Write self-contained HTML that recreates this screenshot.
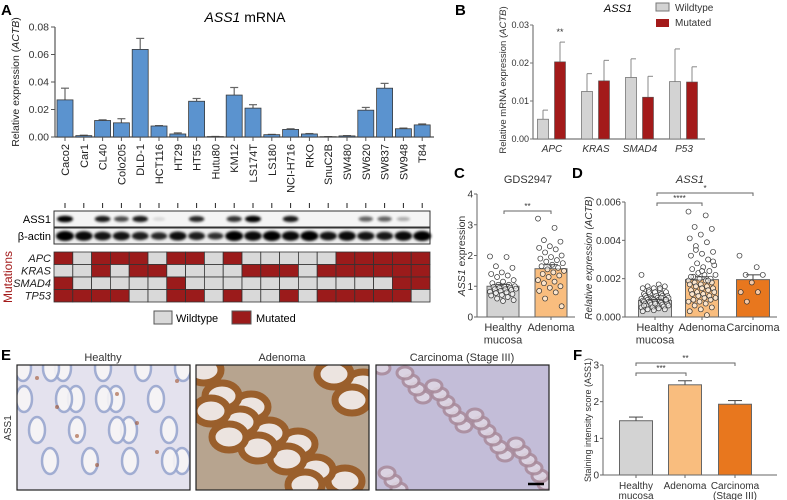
<!DOCTYPE html>
<html><head><meta charset="utf-8"><style>
body{margin:0;background:#fff}
svg{display:block;font-family:"Liberation Sans",sans-serif}
</style></head><body>
<svg id="fig" width="787" height="500" viewBox="0 0 787 500" xmlns="http://www.w3.org/2000/svg">
<defs>
<filter id="blur1" x="-50%" y="-50%" width="200%" height="200%"><feGaussianBlur stdDeviation="1.2"/></filter>
<clipPath id="clipH"><rect x="17" y="365" width="173" height="125"/></clipPath>
<clipPath id="clipA"><rect x="196" y="365" width="173" height="125"/></clipPath>
<clipPath id="clipC"><rect x="376" y="365" width="173" height="125"/></clipPath>
</defs>
<text x="1" y="15" font-size="15" font-weight="bold">A</text>
<text x="455" y="15" font-size="15" font-weight="bold">B</text>
<text x="454" y="178" font-size="15" font-weight="bold">C</text>
<text x="572" y="178" font-size="15" font-weight="bold">D</text>
<text x="1" y="360" font-size="15" font-weight="bold">E</text>
<text x="573" y="360" font-size="15" font-weight="bold">F</text>
<text x="245" y="22" font-size="14" text-anchor="middle"><tspan font-style="italic">ASS1</tspan> mRNA</text>
<text transform="translate(19,82) rotate(-90)" font-size="10.5" text-anchor="middle" fill="#222">Relative expression (<tspan font-style="italic">ACTB</tspan>)</text>
<text x="51" y="223" font-size="11" text-anchor="end">ASS1</text>
<text x="51" y="240" font-size="11" text-anchor="end">β-actin</text>
<text transform="translate(12,277) rotate(-90)" font-size="12" text-anchor="middle" fill="#a31a1a">Mutations</text>
<rect x="154" y="311" width="18" height="13" fill="#d9d9d9" stroke="#555"/>
<text x="176" y="322" font-size="11">Wildtype</text>
<rect x="232" y="311" width="19" height="13" fill="#9b1b1b" stroke="#555"/>
<text x="256" y="322" font-size="11">Mutated</text>
<text x="618" y="12" font-size="11" font-style="italic" text-anchor="middle">ASS1</text>
<rect x="656" y="3" width="13" height="8" fill="#d3d3d3" stroke="#777"/>
<text x="675" y="11" font-size="10" fill="#333">Wildtype</text>
<rect x="656" y="19" width="13" height="8" fill="#a31a1a"/>
<text x="675" y="26" font-size="10" fill="#333">Mutated</text>
<text transform="translate(506,80) rotate(-90)" font-size="9.5" text-anchor="middle" fill="#333">Relative mRNA expression (<tspan font-style="italic">ACTB</tspan>)</text>
<text x="528" y="183" font-size="11" text-anchor="middle" fill="#333">GDS2947</text>
<text transform="translate(465,256) rotate(-90)" font-size="10.5" text-anchor="middle" fill="#333"><tspan font-style="italic">ASS1</tspan> expression</text>
<text x="690" y="183" font-size="11" font-style="italic" text-anchor="middle" fill="#333">ASS1</text>
<text transform="translate(592,258) rotate(-90)" font-size="10" font-style="italic" text-anchor="middle" fill="#333">Relative expression (ACTB)</text>
<text x="103" y="361" font-size="11" text-anchor="middle" fill="#333">Healthy</text>
<text x="282" y="361" font-size="11" text-anchor="middle" fill="#333">Adenoma</text>
<text x="462" y="361" font-size="11" text-anchor="middle" fill="#333">Carcinoma (Stage III)</text>
<text transform="translate(11,428) rotate(-90)" font-size="10" text-anchor="middle" fill="#333">ASS1</text>
<text transform="translate(591,420) rotate(-90)" font-size="9" text-anchor="middle" fill="#333">Staining intensity score (ASS1)</text>
<g id="root"></g>
</svg>
<script>
// ===== Panel A data =====
const aCats = ["Caco2","Car1","CL40","Colo205","DLD-1","HCT116","HT29","HT55","Hutu80","KM12","LS174T","LS180","NCI-H716","RKO","SnuC2B","SW480","SW620","SW837","SW948","T84"];
const aVals = [0.027,0.001,0.012,0.0103,0.0637,0.008,0.0022,0.026,0.0003,0.0305,0.021,0.0017,0.0055,0.0022,0.0002,0.0008,0.0195,0.0355,0.006,0.0088];
const aErr  = [0.0355,0.0013,0.0125,0.0133,0.0717,0.0083,0.003,0.028,0.0004,0.036,0.0235,0.0019,0.006,0.0025,0.0003,0.001,0.0215,0.039,0.0065,0.0095];
const aTicks = [0,0.02,0.04,0.06,0.08];
const aTickLabels = ["0.00","0.02","0.04","0.06","0.08"];
const blotAss1 = [1,0,0.9,0.7,0.9,0.12,0,0.85,0,0.8,1,0,0.9,0,0,0,0.6,0.6,0.3,0];
const blotActin = [1,0.9,0.8,0.8,0.7,0.6,0.85,0.7,0.5,1,0.9,1,0.9,1,0.8,0.9,0.8,0.75,0.9,1];
const mutGenes = ["APC","KRAS","SMAD4","TP53"];
const mutAPC   = [1,0,1,1,1,0,1,1,0,1,0,0,0,0,0,1,1,1,1,1];
const mutKRAS  = [0,0,1,0,1,1,0,0,0,0,1,1,1,0,1,1,1,1,1,1];
const mutSMAD4 = [1,0,0,0,0,0,1,0,0,0,0,0,0,0,0,0,0,0,1,1];
const mutTP53  = [1,1,1,1,0,0,1,1,0,1,0,0,1,0,1,1,1,1,1,0];
// ===== Panel B data =====
const bCats = ["APC","KRAS","SMAD4","P53"];
const bWt = [0.0052,0.0125,0.0162,0.0151];
const bWtErr = [0.0076,0.0172,0.0211,0.0237];
const bMut = [0.0203,0.0153,0.011,0.015];
const bMutErr = [0.0255,0.0207,0.0165,0.019];
const bTicks = [0,0.01,0.02,0.03];
const bTickLabels = ["0.00","0.01","0.02","0.03"];
// ===== Panel C data =====
const cCats = [["Healthy","mucosa"],["Adenoma"]];
const cMeans = [1.0,1.57];
const cErr = [1.06,1.7];
const cHealthy = [1.97,1.95,1.65,1.6,1.45,1.4,1.35,1.3,1.2,1.15,1.1,1.05,1.05,1.0,1.0,0.98,0.95,0.95,0.92,0.9,0.9,0.88,0.85,0.82,0.8,0.78,0.75,0.72,0.7,0.65,0.6,0.55,0.52];
const cAdenoma = [3.2,2.9,2.5,2.45,2.3,2.25,2.2,2.1,2.0,1.95,1.9,1.85,1.8,1.75,1.7,1.65,1.6,1.55,1.5,1.45,1.4,1.35,1.3,1.2,1.15,1.1,1.0,0.95,0.85,0.8,0.6,0.35];
const cTicks = [0,1,2,3,4];
// ===== Panel D data =====
const dCats = [["Healthy","mucosa"],["Adenoma"],["Carcinoma"]];
const dMeans = [0.00087,0.00195,0.00195];
const dErr = [0.00092,0.0021,0.0022];
const dHealthy = [0.0022,0.0017,0.0016,0.0016,0.0015,0.0015,0.0014,0.0014,0.0013,0.0013,0.0012,0.0012,0.0012,0.0011,0.0011,0.0011,0.0011,0.001,0.001,0.001,0.001,0.001,0.00095,0.00095,0.0009,0.0009,0.0009,0.0009,0.00085,0.00085,0.0008,0.0008,0.0008,0.0008,0.00075,0.00075,0.0007,0.0007,0.0007,0.00065,0.00065,0.0006,0.0006,0.0006,0.00055,0.0005,0.0005,0.00045,0.0004,0.0004,0.00035,0.0003,0.0015,0.0013,0.0009,0.0007,0.0006,0.001];
const dAdenoma = [0.0055,0.0053,0.0047,0.0046,0.0043,0.0041,0.0039,0.0037,0.0034,0.0033,0.0032,0.003,0.0028,0.0027,0.0026,0.0025,0.0024,0.0023,0.0022,0.0022,0.0021,0.002,0.002,0.0019,0.0019,0.0018,0.0018,0.0017,0.0017,0.0016,0.0016,0.0015,0.0015,0.0014,0.0014,0.0013,0.0013,0.0012,0.0012,0.0011,0.0011,0.001,0.001,0.0009,0.0009,0.0008,0.0008,0.0007,0.0006,0.0005,0.0004,0.0003,0.0001,0.0035,0.0029,0.0024,0.0021,0.0019];
const dCarcinoma = [0.0032,0.0026,0.0022,0.0022,0.0018,0.0013,0.0013,0.0008];
const dTicks = [0,0.002,0.004,0.006];
const dTickLabels = ["0.000","0.002","0.004","0.006"];
// ===== Panel F data =====
const fCats = [["Healthy","mucosa"],["Adenoma"],["Carcinoma","(Stage III)"]];
const fMeans = [1.48,2.46,1.93];
const fErr = [1.58,2.57,2.03];
const fTicks = [0,1,2,3];

const NS = "http://www.w3.org/2000/svg";
const root = document.getElementById('root');
function mk(parent, tag, attrs){ const e=document.createElementNS(NS,tag); for(const k in attrs) e.setAttribute(k,attrs[k]); parent.appendChild(e); return e; }
function grp(name){ const g=mk(root,'g',{});
  
  
  return g; }

// ----- Panel A -----
const xA = i => 65 + i*18.8;
const yA = v => 137 - v/0.08*110;
const gA = grp('panel-a-bar-chart');
let e;
e = mk(gA,'line',{x1:55,y1:yA(0.08),x2:55,y2:137,stroke:'#555','stroke-width':1.2});


e = mk(gA,'line',{x1:55,y1:137,x2:434,y2:137,stroke:'#555','stroke-width':1.2});


aTicks.forEach((t,i)=>{
  e = mk(gA,'line',{x1:51,y1:yA(t),x2:55,y2:yA(t),stroke:'#555'});
  
  
  e = mk(gA,'text',{x:49,y:yA(t)+3.5,'font-size':10.5,'text-anchor':'end',fill:'#333'});
  e.textContent = aTickLabels[i];
  
  
});
aCats.forEach((c,i)=>{
  const x=xA(i);
  e = mk(gA,'line',{x1:x,y1:yA(aVals[i]),x2:x,y2:yA(aErr[i]),stroke:'#666','stroke-width':1.2});
  
  
  e = mk(gA,'line',{x1:x-4,y1:yA(aErr[i]),x2:x+4,y2:yA(aErr[i]),stroke:'#666','stroke-width':1.2});
  
  
  e = mk(gA,'rect',{x:x-8,y:yA(aVals[i]),width:16,height:137-yA(aVals[i]),fill:'#5b93cf',stroke:'#3a3a3a','stroke-width':0.8});
  
  
  e = mk(gA,'line',{x1:x,y1:137,x2:x,y2:141,stroke:'#555'});
  
  
  e = mk(gA,'text',{transform:`translate(${x+4},144) rotate(-90)`,'font-size':11,'text-anchor':'end',fill:'#222'});
  e.textContent = c;
  
  
});
const gBlot = grp('western-blot');
e = mk(gBlot,'rect',{x:54,y:211,width:376,height:16,fill:'#f4f4f4',stroke:'#333'});


e = mk(gBlot,'rect',{x:54,y:228,width:376,height:16,fill:'#eeeeee',stroke:'#333'});


aCats.forEach((c,i)=>{
  const x=xA(i);
  e = mk(gBlot,'line',{x1:x,y1:203,x2:x,y2:208,stroke:'#222','stroke-width':1});
  
  
  if(blotAss1[i]>0){
    e = mk(gBlot,'ellipse',{cx:x,cy:219,rx:6+blotAss1[i]*2,ry:1.5+blotAss1[i]*1.8,fill:'#000',opacity:blotAss1[i],filter:'url(#blur1)'});
    
    
  }
  e = mk(gBlot,'ellipse',{cx:x,cy:236,rx:7+blotActin[i]*2,ry:2+blotActin[i]*3,fill:'#000',opacity:0.6+blotActin[i]*0.4,filter:'url(#blur1)'});
  
  
});
const gMut = grp('mutation-heatmap');
const mutRows = [mutAPC,mutKRAS,mutSMAD4,mutTP53];
mutRows.forEach((row,r)=>{
  const y=252+r*12.5;
  e = mk(gMut,'text',{x:51,y:y+10,'font-size':11,'font-style':'italic','text-anchor':'end',fill:'#222'});
  e.textContent = mutGenes[r];
  
  
  row.forEach((m,i)=>{
    e = mk(gMut,'rect',{x:54+i*18.8,y:y,width:18.8,height:12.5,fill:m?'#9b1b1b':'#d9d9d9',stroke:'#333','stroke-width':0.8});
    
    
  });
});

// ----- Panel B -----
const yB = v => 139 - v/0.03*114;
const gxB = g => 552 + g*44;
const gB = grp('panel-b-bar-chart');
e = mk(gB,'line',{x1:533,y1:yB(0.03),x2:533,y2:139,stroke:'#777','stroke-width':1.2});


e = mk(gB,'line',{x1:533,y1:139,x2:705,y2:139,stroke:'#777','stroke-width':1.2});


bTicks.forEach((t,i)=>{
  e = mk(gB,'line',{x1:530,y1:yB(t),x2:533,y2:yB(t),stroke:'#777'});
  
  
  e = mk(gB,'text',{x:529,y:yB(t)+3,'font-size':9,'text-anchor':'end',fill:'#333'});
  e.textContent = bTickLabels[i];
  
  
});
function errBar(g,x,y0,y1,col,w){
  e = mk(g,'line',{x1:x,y1:y0,x2:x,y2:y1,stroke:col,'stroke-width':1});
  
  
  e = mk(g,'line',{x1:x,y1:y1,x2:x+w,y2:y1,stroke:col,'stroke-width':1});
  
  
}
bCats.forEach((c,g)=>{
  const cx=gxB(g);
  errBar(gB,cx-9,yB(bWt[g]),yB(bWtErr[g]),'#888',5);
  e = mk(gB,'rect',{x:cx-14.5,y:yB(bWt[g]),width:11,height:139-yB(bWt[g]),fill:'#d3d3d3',stroke:'#777','stroke-width':0.8});
  
  
  errBar(gB,cx+8,yB(bMut[g]),yB(bMutErr[g]),'#888',5);
  e = mk(gB,'rect',{x:cx+2.5,y:yB(bMut[g]),width:11,height:139-yB(bMut[g]),fill:'#a31a1a',stroke:'#555','stroke-width':0.6});
  
  
  e = mk(gB,'text',{x:cx,y:152,'font-size':10,'font-style':'italic','text-anchor':'middle',fill:'#333'});
  e.textContent = c;
  
  
});
e = mk(gB,'text',{x:gxB(0)+8,y:35,'font-size':9,'text-anchor':'middle',fill:'#333'});
e.textContent='**';



function scatterPanel(name, axisX, y0, yScale, cx, w, cats, means, errs, groups, colors, ticks, tickLabels, xEnd, labelY, lblSize, lblGap){
  const g = grp(name);
  e = mk(g,'line',{x1:axisX,y1:yScale(ticks[ticks.length-1]),x2:axisX,y2:y0,stroke:'#666','stroke-width':1});
  
  
  e = mk(g,'line',{x1:axisX,y1:y0,x2:xEnd,y2:y0,stroke:'#666','stroke-width':1});
  
  
  ticks.forEach((t,i)=>{
    e = mk(g,'line',{x1:axisX-3,y1:yScale(t),x2:axisX,y2:yScale(t),stroke:'#666'});
    
    
    e = mk(g,'text',{x:axisX-4,y:yScale(t)+3.5,'font-size':10,'text-anchor':'end',fill:'#333'});
    e.textContent = tickLabels[i];
    
    
  });
  cats.forEach((c,k)=>{
    const x=cx[k];
    e = mk(g,'rect',{x:x-w/2,y:yScale(means[k]),width:w,height:y0-yScale(means[k]),fill:colors[k],stroke:'#666','stroke-width':1});
    
    
    e = mk(g,'line',{x1:x,y1:y0,x2:x,y2:y0+3,stroke:'#666'});
    
    
    c.forEach((s,j)=>{
      e = mk(g,'text',{x:x,y:labelY+j*lblGap,'font-size':lblSize,'text-anchor':'middle',fill:'#333'});
      e.textContent = s;
      
      
    });
    if(groups){
      groups[k].forEach((v,i)=>{
        const jit = (((i*37)%23)/22 - 0.5) * (w-6);
        e = mk(g,'circle',{cx:x+jit,cy:yScale(v),r:2.5,fill:'rgba(255,255,255,0.6)',stroke:'#333','stroke-width':0.7});
        
        
      });
    }
    errBar(g,x,yScale(means[k]),yScale(errs[k]),'#444',7);
    e = mk(g,'line',{x1:x-7,y1:yScale(errs[k]),x2:x,y2:yScale(errs[k]),stroke:'#444'});
    
    
  });
  return g;
}
function bracket(g,x1,x2,y,label){
  e = mk(g,'path',{d:`M${x1},${y+3}V${y}H${x2}V${y+3}`,fill:'none',stroke:'#666','stroke-width':1});
  
  
  e = mk(g,'text',{x:(x1+x2)/2,y:y-2,'font-size':8,'text-anchor':'middle',fill:'#333'});
  e.textContent = label;
  
  
}
const yC = v => 317 - v/4*123;
const gC = scatterPanel('panel-c', 477, 317, yC, [503,551], 32, cCats, cMeans, cErr, [cHealthy,cAdenoma], ['#d3d3d3','#f9bd7e'], cTicks, cTicks.map(String), 575, 331, 11, 12.5);
bracket(gC,504,551,211,'**');
const yD = v => 317 - v/0.006*115;
const gD = scatterPanel('panel-d', 625, 317, yD, [655,702,753], 33, dCats, dMeans, dErr, [dHealthy,dAdenoma,dCarcinoma], ['#d3d3d3','#f9bd7e','#e8771e'], dTicks, dTickLabels, 777, 331, 11, 12.5);
bracket(gD,657,702,203,'****');
bracket(gD,657,753,193,'*');
const yF = v => 475 - v/3*110;
const gF = scatterPanel('panel-f', 603, 475, yF, [636,685,735], 33, fCats, fMeans, fErr, null, ['#d3d3d3','#f9bd7e','#e8771e'], fTicks, fTicks.map(String), 777, 489, 10, 10);
bracket(gF,636,686,373,'***');
bracket(gF,636,735,363,'**');

// ----- Panel E images (decorative textures) -----
function tissue(name,clip,x0,bg,items){
  const g = grp(name);
  const c = mk(g,'g',{'clip-path':'url(#'+clip+')'});
  e = mk(c,'rect',{x:x0,y:365,width:173,height:125,fill:bg});
  
  
  items(c,x0);
  e = mk(g,'rect',{x:x0,y:365,width:173,height:125,fill:'none',stroke:'#222','stroke-width':1.2});
  
  
}
tissue('image-healthy','clipH',17,'#e4e2ee',(c,x0)=>{
  for(let i=0;i<22;i++){
    const cx=x0+6+((i*53)%172), cy=368+((i*31)%124);
    e = mk(c,'ellipse',{cx:cx,cy:cy,rx:8,ry:13,fill:'#f7f5f6',stroke:'#9aa8d0','stroke-width':2.5,opacity:0.9});
    
    
  }
  for(let i=0;i<8;i++){
    e = mk(c,'circle',{cx:x0+20+i*20,cy:378+((i*29)%100),r:2,fill:'#a0522d',opacity:0.6});
    
    
  }
});
tissue('image-adenoma','clipA',196,'#b7a48f',(c,x0)=>{
  for(let i=0;i<16;i++){
    const cx=x0+8+((i*47)%170), cy=370+((i*37)%122);
    e = mk(c,'ellipse',{cx:cx,cy:cy,rx:17,ry:13,fill:'#ece4e0',stroke:'#9a5f2c','stroke-width':7});
    
    
  }
});
tissue('image-carcinoma','clipC',376,'#c3bdd8',(c,x0)=>{
  for(let i=0;i<26;i++){
    const cx=x0+6+((i*41)%170), cy=368+((i*29)%124);
    e = mk(c,'ellipse',{cx:cx,cy:cy,rx:8,ry:6,fill:'#e0d8e4',stroke:'#a88a9a','stroke-width':3,opacity:0.85});
    
    
  }
  e = mk(c,'line',{x1:528,y1:484,x2:544,y2:484,stroke:'#000','stroke-width':2.5});
  
  
});
</script>
</body></html>
